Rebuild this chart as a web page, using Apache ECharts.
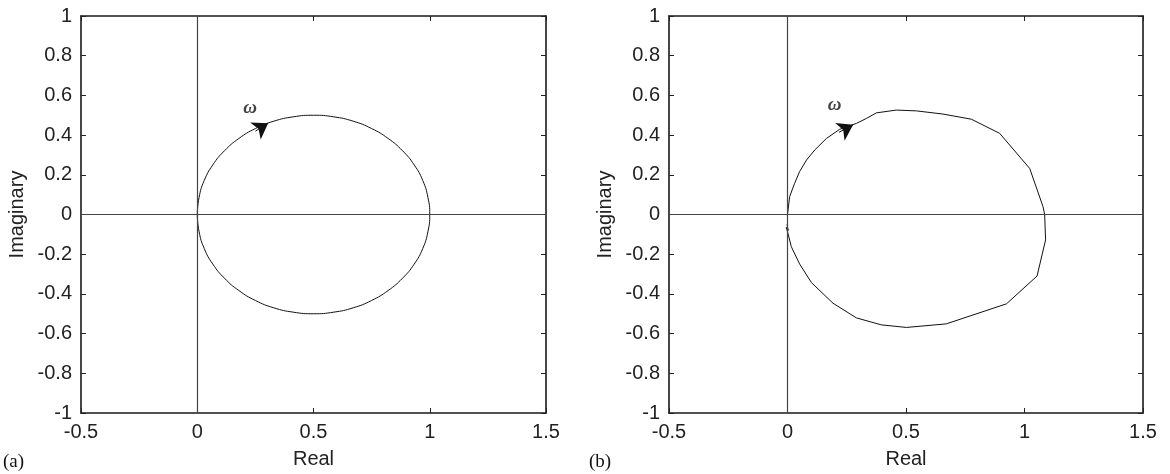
<!DOCTYPE html>
<html>
<head>
<meta charset="utf-8">
<script src="https://cdn.jsdelivr.net/npm/echarts@6/dist/echarts.min.js"></script>
<style>html,body{margin:0;padding:0;background:#fff}#c{width:1170px;height:474px}</style>
</head>
<body>
<div id="c"></div>
<script>
// Axis ranges / ticks
const xMin = -0.5, xMax = 1.5, xStep = 0.5;
const yMin = -1, yMax = 1, yStep = 0.2;
const xName = 'Real';
const yName = 'Imaginary';
const panelLabels = ['(a)', '(b)'];
const omegaText = 'ω';

// Panel (a): circle
const curveA = [
  [0,0],[0.008,0.087],[0.030,0.171],[0.067,0.25],[0.117,0.321],[0.179,0.383],[0.25,0.433],
  [0.329,0.470],[0.413,0.492],[0.5,0.5],[0.587,0.492],[0.671,0.470],[0.75,0.433],[0.821,0.383],
  [0.883,0.321],[0.933,0.25],[0.970,0.171],[0.992,0.087],[1,0],[0.992,-0.087],[0.970,-0.171],
  [0.933,-0.25],[0.883,-0.321],[0.821,-0.383],[0.75,-0.433],[0.671,-0.470],[0.587,-0.492],
  [0.5,-0.5],[0.413,-0.492],[0.329,-0.470],[0.25,-0.433],[0.179,-0.383],[0.117,-0.321],
  [0.067,-0.25],[0.030,-0.171],[0.008,-0.087],[0,0]
];
const curveB = [
  [0,0],[0.009,0.09],[0.030,0.157],[0.051,0.216],[0.080,0.274],[0.115,0.325],[0.164,0.383],
  [0.220,0.429],[0.291,0.459],[0.333,0.484],[0.375,0.512],[0.459,0.526],[0.544,0.522],
  [0.656,0.506],[0.776,0.48],[0.895,0.409],[1.022,0.232],[1.078,0.04],[1.085,0],[1.089,-0.128],
  [1.053,-0.31],[0.924,-0.45],[0.670,-0.551],[0.502,-0.569],[0.396,-0.556],[0.291,-0.521],
  [0.192,-0.447],[0.101,-0.343],[0.051,-0.249],[0.016,-0.162],[0.002,-0.095],[-0.005,-0.065],
  [0.003,-0.08],[-0.002,-0.05]
];
const arrowA = [[0.25,0.42],[0.305,0.46]];
const arrowB = [[0.217,0.414],[0.277,0.452]];
const omegaPosA = [0.227,0.536];
const omegaPosB = [0.199,0.551];

const chart = echarts.init(document.getElementById('c'), null, {renderer:'canvas'});
const txt = '#222';
const font = "'Liberation Sans', Arial, sans-serif";
const grids = [
  {left:81, top:16, width:465, height:397},
  {left:669, top:16, width:474, height:397}
];
const xAxes = [], yAxes = [];
grids.forEach((g, gi) => {
  [0,1].forEach(k => {
    xAxes.push({
      type:'value', gridIndex:gi, min:xMin, max:xMax, interval:xStep,
      position: k===0 ? 'bottom' : 'top',
      name: k===0 ? xName : '', nameLocation:'middle', nameGap:36,
      nameTextStyle:{color:txt, fontSize:20, fontFamily:font},
      axisLine:{show:true, onZero:false, lineStyle:{color:'#1a1a1a', width:1.6}},
      axisTick:{show:true, inside:true, length:5, lineStyle:{color:'#222', width:1}},
      axisLabel:{show:k===0, color:txt, fontSize:20, fontFamily:font, margin:9},
      splitLine:{show:false}
    });
    yAxes.push({
      type:'value', gridIndex:gi, min:yMin, max:yMax, interval:yStep,
      position: k===0 ? 'left' : 'right',
      name: k===0 ? yName : '', nameLocation:'middle', nameGap:54,
      nameTextStyle:{color:txt, fontSize:20, fontFamily:font},
      axisLine:{show:true, onZero:false, lineStyle:{color:'#1a1a1a', width:1.6}},
      axisTick:{show:true, inside:true, length:5, lineStyle:{color:'#222', width:1}},
      axisLabel:{show:k===0, color:txt, fontSize:20, fontFamily:font, margin:9},
      splitLine:{show:false}
    });
  });
});

function panelSeries(gi, curve, arrow, omegaPos, smooth) {
  const xi = gi*2, yi = gi*2;
  return [
    {
      type:'line', xAxisIndex:xi, yAxisIndex:yi, data:curve, smooth:smooth,
      showSymbol:false, symbol:'none', lineStyle:{color:'#111', width:1}, silent:true,
      markLine:{
        silent:true, symbol:'none', label:{show:false},
        lineStyle:{color:'#444', width:1.2, type:'solid'},
        data:[{xAxis:0},{yAxis:0}]
      }
    },
    {
      type:'lines', coordinateSystem:'cartesian2d', xAxisIndex:xi, yAxisIndex:yi,
      symbol:['none','arrow'], symbolSize:15,
      lineStyle:{color:'#111', width:1, opacity:1},
      data:[{coords:arrow}], silent:true
    },
    {
      type:'scatter', xAxisIndex:xi, yAxisIndex:yi, symbolSize:0, silent:true,
      data:[omegaPos],
      label:{show:true, position:'inside', formatter:omegaText, color:'#111',
        fontSize:19, fontStyle:'italic', fontWeight:'bold', fontFamily:"'Liberation Serif', 'DejaVu Serif', serif"}
    }
  ];
}

chart.setOption({
  animation:false,
  backgroundColor:'#fff',
  grid:grids,
  xAxis:xAxes,
  yAxis:yAxes,
  series:[].concat(panelSeries(0, curveA, arrowA, omegaPosA, true), panelSeries(1, curveB, arrowB, omegaPosB, false)),
  graphic:[
    {type:'text', left:3, top:453, style:{text:panelLabels[0], fill:'#111', font:"19px 'Liberation Serif', serif"}},
    {type:'text', left:589, top:453, style:{text:panelLabels[1], fill:'#111', font:"19px 'Liberation Serif', serif"}}
  ]
});
</script>
</body>
</html>
